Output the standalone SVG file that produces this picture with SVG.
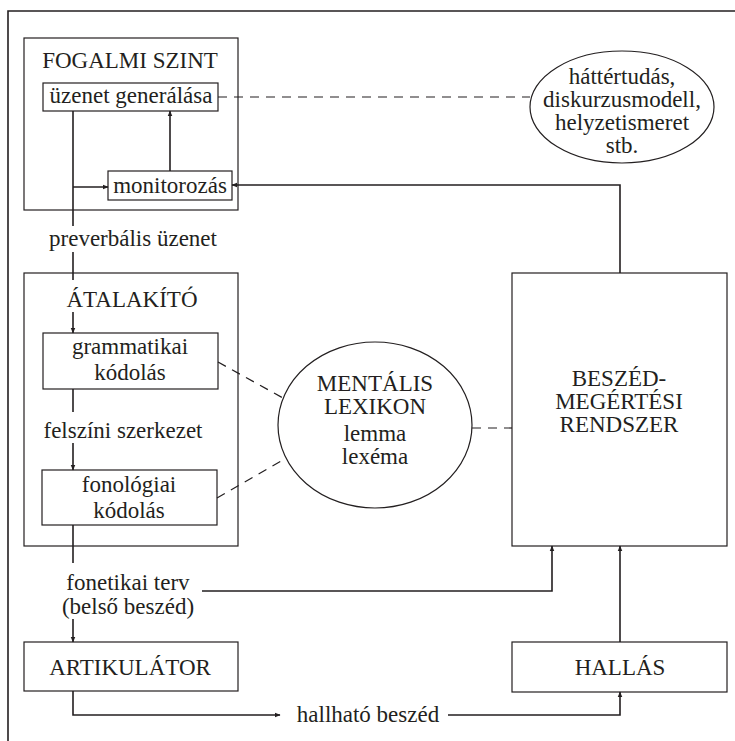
<svg xmlns="http://www.w3.org/2000/svg" width="735" height="741" viewBox="0 0 735 741">
<defs>
<style>
text{font-family:'Liberation Serif','DejaVu Serif',serif;font-size:23px;fill:#231f20;text-anchor:middle}
.box{fill:#fff;stroke:#231f20;stroke-width:1.2}
.ln{fill:none;stroke:#231f20;stroke-width:1.6}
.ar{fill:none;stroke:#231f20;stroke-width:1.6;marker-end:url(#ah)}
.ds{fill:none;stroke:#231f20;stroke-width:1.2;stroke-dasharray:9 7}
</style>
<marker id="ah" viewBox="0 0 10 10" refX="9" refY="5" markerWidth="6" markerHeight="6" orient="auto" markerUnits="userSpaceOnUse">
<path d="M0,1 L10,5 L0,9 Z" fill="#231f20"/>
</marker>
</defs>
<rect width="735" height="741" fill="#fff"/>
<path class="ln" d="M8,741 V11 H735"/>
<g id="fogalmi"><rect class="box" x="24" y="38" width="214" height="172"/><text x="130" y="68">FOGALMI SZINT</text></g>
<g id="uzenet"><rect class="box" x="43" y="83" width="175" height="28"/><text x="131" y="103">üzenet generálása</text></g>
<g id="monitor"><rect class="box" x="108" y="171" width="124" height="29"/><text x="170" y="193">monitorozás</text></g>
<g id="hatter"><ellipse class="box" cx="622" cy="107" rx="92" ry="56"/><text x="622" y="84">háttértudás,</text><text x="622" y="107">diskurzusmodell,</text><text x="622" y="130">helyzetismeret</text><text x="622" y="153">stb.</text></g>
<g id="atalakito"><rect class="box" x="24" y="273" width="214" height="273"/><text x="132" y="307">ÁTALAKÍTÓ</text></g>
<g id="gram"><rect class="box" x="43" y="333" width="175" height="56"/><text x="130" y="354">grammatikai</text><text x="130" y="380">kódolás</text></g>
<g id="fono"><rect class="box" x="42" y="470" width="175" height="55"/><text x="129" y="492">fonológiai</text><text x="129" y="518">kódolás</text></g>
<g id="lexikon"><ellipse class="box" cx="375" cy="425" rx="97" ry="83"/><text x="375" y="391">MENTÁLIS</text><text x="375" y="414">LEXIKON</text><text x="375" y="441">lemma</text><text x="375" y="464">lexéma</text></g>
<g id="beszed"><rect class="box" x="512" y="273" width="215" height="273"/><text x="619" y="386">BESZÉD-</text><text x="619" y="409">MEGÉRTÉSI</text><text x="619" y="432">RENDSZER</text></g>
<g id="artik"><rect class="box" x="24" y="642" width="214" height="49"/><text x="130" y="675">ARTIKULÁTOR</text></g>
<g id="hallas"><rect class="box" x="512" y="642" width="215" height="50"/><text x="620" y="675">HALLÁS</text></g>
<g id="labels">
<text x="133" y="246">preverbális üzenet</text>
<text x="123" y="438">felszíni szerkezet</text>
<text x="128" y="590">fonetikai terv</text>
<text x="128" y="614">(belső beszéd)</text>
<text x="368" y="722">hallható beszéd</text>
</g>
<g id="connectors">
<path class="ln" d="M73,111 V226"/>
<path class="ln" d="M73,252 V280"/>
<path class="ar" d="M73,312 V333"/>
<path class="ar" d="M73,187 H108"/>
<path class="ar" d="M170,171 V111"/>
<path class="ar" d="M620,273 V185 H232"/>
<path class="ds" d="M218,97 H530"/>
<path class="ln" d="M73,389 V412"/>
<path class="ar" d="M73,443 V470"/>
<path class="ds" d="M218,362 L283,398"/>
<path class="ds" d="M217,498 L283,460"/>
<path class="ds" d="M472,428 H512"/>
<path class="ln" d="M73,525 V563"/>
<path class="ar" d="M73,619 V642"/>
<path class="ar" d="M202,591 H552 V546"/>
<path class="ar" d="M73,691 V715 H280"/>
<path class="ar" d="M448,715 H620 V692"/>
<path class="ar" d="M620,642 V546"/>
</g>
</svg>
